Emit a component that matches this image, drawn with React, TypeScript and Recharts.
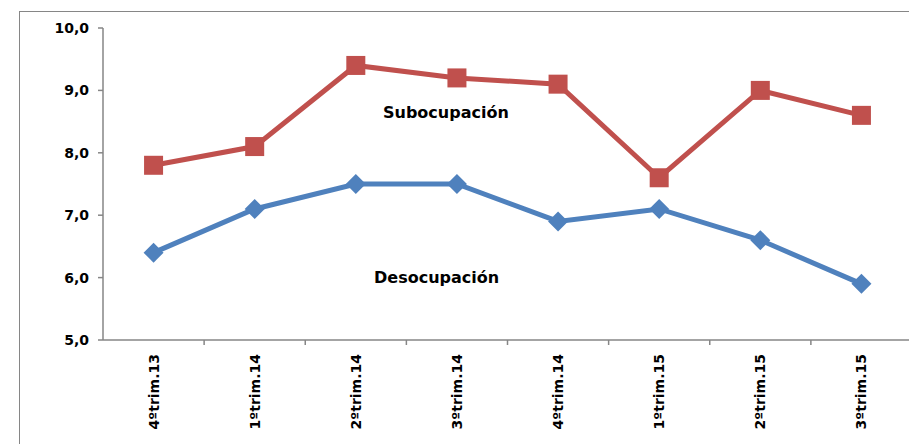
import React from 'react';
import { LineChart, Line, XAxis, YAxis } from 'recharts';

const categories = ['4ºtrim.13', '1ºtrim.14', '2ºtrim.14', '3ºtrim.14', '4ºtrim.14', '1ºtrim.15', '2ºtrim.15', '3ºtrim.15'];
const subocupacion = [7.8, 8.1, 9.4, 9.2, 9.1, 7.6, 9.0, 8.6];
const desocupacion = [6.4, 7.1, 7.5, 7.5, 6.9, 7.1, 6.6, 5.9];
const yTicks = [5, 6, 7, 8, 9, 10];

const data = categories.map((name, i) => ({
  name,
  sub: subocupacion[i],
  des: desocupacion[i],
}));

const FONT = '"DejaVu Sans", sans-serif';
const AXIS = '#868686';
const RED = '#C0504D';
const BLUE = '#4F81BD';

const CHART_W = 930;
const CHART_H = 444;
const MARGIN = { top: 28, right: 18, left: 43, bottom: 0 };
const Y_W = 60;
const BAND = (CHART_W - MARGIN.left - MARGIN.right - Y_W) / categories.length;

const SquareDot = (props: any) => {
  const { cx, cy } = props;
  if (cx == null || cy == null) return null;
  const s = 19;
  return <rect x={cx - s / 2} y={cy - s / 2} width={s} height={s} fill={RED} />;
};

const DiamondDot = (props: any) => {
  const { cx, cy } = props;
  if (cx == null || cy == null) return null;
  const r = 10;
  return <polygon points={`${cx},${cy - r} ${cx + r},${cy} ${cx},${cy + r} ${cx - r},${cy}`} fill={BLUE} />;
};

const CatTick = (props: any) => {
  const { x, y, payload, index } = props;
  const left = x - BAND / 2;
  return (
    <g>
      {index > 0 && <line x1={left} y1={y - 5} x2={left} y2={y} stroke={AXIS} strokeWidth={1.5} />}
      {index === categories.length - 1 && (
        <line x1={x + BAND / 2} y1={y - 5} x2={x + BAND / 2} y2={y} stroke={AXIS} strokeWidth={1.5} />
      )}
      <text
        x={x + 5}
        y={y + 9}
        transform={`rotate(-90, ${x + 5}, ${y + 9})`}
        textAnchor="end"
        fontFamily={FONT}
        fontWeight="bold"
        fontSize={14}
        fill="#000"
      >
        {payload.value}
      </text>
    </g>
  );
};

const noteStyle: React.CSSProperties = {
  position: 'absolute',
  fontFamily: FONT,
  fontWeight: 'bold',
  fontSize: 16,
  lineHeight: '20px',
  color: '#000',
  whiteSpace: 'nowrap',
};

export default function App() {
  return (
    <div style={{ position: 'absolute', left: 0, top: 0, width: 909, height: 444, overflow: 'hidden', background: '#fff' }}>
      <div
        style={{
          position: 'absolute',
          left: 19,
          top: 11,
          width: 1000,
          height: 1000,
          border: `1.5px solid ${AXIS}`,
        }}
      />
      <div style={{ position: 'absolute', left: 0, top: 0 }}>
        <LineChart width={CHART_W} height={CHART_H} data={data} margin={MARGIN}>
          <XAxis
            dataKey="name"
            height={104}
            interval={0}
            padding={{ left: BAND / 2, right: BAND / 2 }}
            tickLine={false}
            tickSize={5}
            tickMargin={0}
            tick={<CatTick />}
            stroke={AXIS}
            strokeWidth={1.5}
          />
          <YAxis
            width={Y_W}
            domain={[5, 10]}
            ticks={yTicks}
            interval={0}
            tickSize={5}
            tickMargin={9}
            stroke={AXIS}
            strokeWidth={1.5}
            tickFormatter={(v: number) => v.toFixed(1).replace('.', ',')}
            tick={{ fill: '#000', fontFamily: FONT, fontWeight: 'bold', fontSize: 14 }}
          />
          <Line
            dataKey="sub"
            stroke={RED}
            strokeWidth={5}
            dot={<SquareDot />}
            activeDot={false}
            isAnimationActive={false}
          />
          <Line
            dataKey="des"
            stroke={BLUE}
            strokeWidth={5}
            dot={<DiamondDot />}
            activeDot={false}
            isAnimationActive={false}
          />
        </LineChart>
      </div>
      <div style={{ ...noteStyle, left: 383, top: 103 }}>Subocupación</div>
      <div style={{ ...noteStyle, left: 374, top: 268 }}>Desocupación</div>
    </div>
  );
}
